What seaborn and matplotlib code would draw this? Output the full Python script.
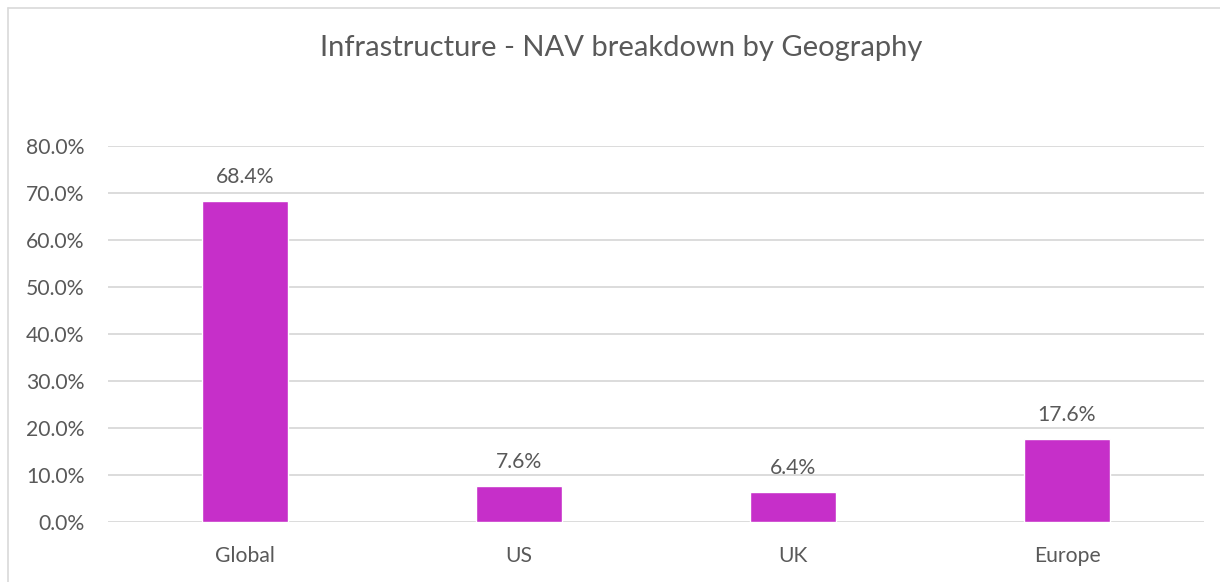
import matplotlib
matplotlib.use("Agg")
import matplotlib.pyplot as plt
import seaborn as sns
import pandas as pd
from matplotlib.lines import Line2D
from matplotlib.ticker import PercentFormatter, MultipleLocator

regions = ["Global", "US", "UK", "Europe"]
nav_share = [68.4, 7.6, 6.4, 17.6]

sns.set_theme(style="white")
plt.rcParams["font.family"] = ["Lato", "DejaVu Sans"]

df = pd.DataFrame({"region": regions, "share": nav_share})

fig = plt.figure(figsize=(12.2, 5.82), dpi=100)
ax = fig.add_axes([108 / 1220, 1 - 522 / 582, 1096 / 1220, 376 / 582])

text_color = "#595959"
sns.barplot(data=df, x="region", y="share", color="#C62FC9", saturation=1,
            width=0.314, ax=ax, zorder=3)

ax.set_ylim(0, 80)
ax.set_xlim(-0.5, len(regions) - 0.5)
ax.yaxis.set_major_locator(MultipleLocator(10))
ax.yaxis.set_major_formatter(PercentFormatter(decimals=1))
ax.grid(axis="y", color="#D9D9D9", linewidth=1.3, zorder=0)
ax.set_axisbelow(True)
for s in ax.spines.values():
    s.set_visible(False)
ax.set_xlabel("")
ax.set_ylabel("")
ax.tick_params(axis="both", length=0, labelsize=15.2, labelcolor=text_color)
ax.tick_params(axis="x", pad=17)
ax.tick_params(axis="y", pad=17)

for i, v in enumerate(nav_share):
    ax.annotate(f"{v:.1f}%", (i, v), xytext=(0, 10), textcoords="offset points",
                ha="center", va="bottom", fontsize=15.2, color=text_color)

fig.text(621 / 1220, 1 - 48 / 582, "Infrastructure - NAV breakdown by Geography",
         ha="center", va="center", fontsize=21, color=text_color)

# Chart-area frame: top and left edges only
x0, y0 = 7.5 / 1220, 1 - 7.5 / 582
fig.add_artist(Line2D([x0, 1.0], [y0, y0], transform=fig.transFigure,
                      color="#D9D9D9", linewidth=1.2))
fig.add_artist(Line2D([x0, x0], [0.0, y0], transform=fig.transFigure,
                      color="#D9D9D9", linewidth=1.2))

fig.savefig("out.png", dpi=100, facecolor="white")
